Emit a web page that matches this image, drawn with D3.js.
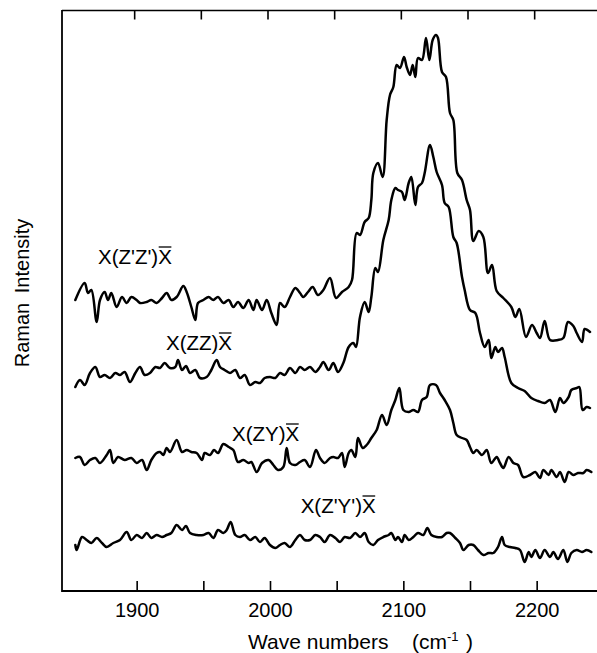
<!DOCTYPE html>
<html>
<head>
<meta charset="utf-8">
<script src="https://cdn.jsdelivr.net/npm/d3@7"></script>
<style>
  html, body { margin: 0; padding: 0; background: #fff; }
  svg { display: block; }
  text { font-family: "Liberation Sans", Arial, Helvetica, sans-serif; fill: #000; }
</style>
</head>
<body>
<svg id="chart" width="597" height="653"></svg>
<script>
// ---- DATA (wavenumber cm^-1, Raman intensity in arbitrary units incl. vertical offset) ----
const xDomain = [1844, 2245.25];
const yDomain = [0, 58.1];
const majorTicks = [1900, 2000, 2100, 2200];
const minorTicks = [1950, 2050, 2150];
const seriesNames = ["X(Z'Z')X", "X(ZZ)X", "X(ZY)X", "X(Z'Y')X"];

const zpzp = [[1854,29.1],[1861,30.8],[1863.5,29.8],[1866,30.1],[1870,26.9],[1872.5,29.1],[1876,29.9],[1878.5,29.1],[1881,29.8],[1885,28.4],[1889,29.4],[1892.5,28.8],[1896,29.4],[1900,29.1],[1902.5,28.8],[1907.5,28.9],[1911,29.1],[1915,28.8],[1919,29.3],[1922.5,29.8],[1926,29.1],[1930,29.4],[1935,30.5],[1937.5,29.9],[1941,28.4],[1944,27.1],[1946,28.8],[1950,29.1],[1954,29.4],[1957.5,29.1],[1961,29.4],[1965,28.8],[1969,29.1],[1972.5,28.4],[1976,28.9],[1980,28.3],[1984,29.1],[1987.5,28.1],[1990,29.1],[1994,28.1],[1997.5,29.1],[2001,27.8],[2005,26.6],[2007.5,28.8],[2011,28.4],[2015,29.4],[2019,30.3],[2022.5,29.8],[2025,29.4],[2028.5,29.9],[2032,30.4],[2036,29.6],[2040,30.1],[2045,31.3],[2049.5,29.3],[2054,29.9],[2059,30.4],[2061.5,31.1],[2065,35.8],[2067.5,35.6],[2071,36.9],[2074,37.3],[2076,39.1],[2077.5,41.8],[2081,42.8],[2084.5,41.4],[2087.5,47.1],[2090,49.6],[2092.5,50.4],[2095,52.6],[2097.5,52.3],[2100.5,53.4],[2102.5,52.4],[2105,51.6],[2107,52.6],[2109,51.4],[2111,53.3],[2114,53.1],[2117,55.3],[2119.5,53.1],[2122,55.1],[2124.5,55.6],[2126,55.3],[2129,51.9],[2132,51.4],[2135,47.8],[2137.5,47.1],[2140.5,41.8],[2144,41.1],[2147.5,39.1],[2150,38.1],[2152.5,35.0],[2156.5,36.0],[2160,35.4],[2163.5,31.8],[2166.5,32.6],[2170,30.0],[2175,29.3],[2181,28.4],[2184,27.4],[2187,28.2],[2192,25.4],[2196.5,26.6],[2200,25.8],[2202.5,25.3],[2206,27.0],[2210,25.1],[2216,25.1],[2220,25.3],[2223.5,26.9],[2227.5,26.5],[2230,25.8],[2234,24.9],[2236,26.2],[2240,25.9]];

const zz = [[1854,20.4],[1857.5,21.1],[1861,20.6],[1865,21.8],[1869,22.4],[1872.5,21.4],[1876,21.6],[1880,21.3],[1884,21.8],[1887.5,21.6],[1891,21.9],[1895,20.9],[1899,21.8],[1902.5,22.4],[1906,21.6],[1910,21.8],[1914,22.4],[1917.5,22.3],[1921,22.8],[1925,22.3],[1929,22.4],[1931,23.1],[1934,22.1],[1937,22.5],[1940,21.8],[1944,22.1],[1947.5,21.3],[1952.5,21.4],[1956,22.1],[1960,23.1],[1962.5,22.4],[1966,22.1],[1970,21.8],[1974,22.1],[1977.5,21.3],[1981,21.6],[1985,20.6],[1989,20.9],[1992.5,20.8],[1996,21.3],[2000,21.4],[2004,21.3],[2007.5,21.8],[2011,21.6],[2015,22.3],[2019,21.8],[2022.5,22.4],[2026,22.1],[2030,22.4],[2034,21.9],[2037.5,22.4],[2040,22.9],[2044,22.1],[2047.5,22.8],[2051,21.9],[2055,22.8],[2059,24.4],[2062.5,24.8],[2064.5,24.4],[2067.5,27.4],[2071,28.9],[2074,27.9],[2076,29.4],[2079,32.3],[2081,31.9],[2085,35.1],[2089,37.1],[2091,39.1],[2094,40.3],[2096,40.1],[2099,39.9],[2101,39.1],[2104,40.8],[2106,41.4],[2109,38.6],[2111,40.4],[2114,40.8],[2116,41.8],[2120,44.6],[2122.5,43.4],[2125,41.9],[2129,40.6],[2131,38.8],[2134,38.4],[2137.5,35.4],[2140,34.8],[2144,31.4],[2146,30.1],[2150,28.1],[2154,27.8],[2157.5,25.8],[2161,24.4],[2164,25.1],[2166,23.3],[2169,24.4],[2171,23.9],[2174,24.3],[2176,23.4],[2181,20.8],[2186,20.3],[2191,20.0],[2196,19.3],[2201,19.0],[2206,18.8],[2210,19.1],[2214,17.9],[2217.5,19.3],[2220,18.8],[2224,19.4],[2226,20.1],[2230,20.3],[2232,20.4],[2234.5,18.1],[2237.5,18.4],[2240,18.3]];

const zy = [[1854,13.3],[1857.5,13.4],[1861,12.6],[1865,13.1],[1869,13.3],[1872.5,12.8],[1877.5,13.6],[1880,14.1],[1882.5,12.8],[1886,13.4],[1891,13.1],[1896,13.3],[1900,12.8],[1904,13.1],[1907.5,12.1],[1911,13.1],[1915,13.8],[1917.5,13.9],[1920,13.6],[1922.5,14.3],[1925,13.9],[1930,15.1],[1934,13.9],[1937.5,14.1],[1941,13.9],[1945,13.8],[1949,13.1],[1951,13.8],[1955,13.6],[1958,14.1],[1961,13.8],[1965,14.7],[1969,14.4],[1972.5,14.1],[1976,12.9],[1980,13.1],[1984,12.8],[1986,12.9],[1990,11.9],[1994,12.8],[1999,13.1],[2002.5,12.6],[2006,12.1],[2010,12.4],[2012.5,14.3],[2015,12.8],[2019,12.6],[2022.5,12.9],[2026,13.1],[2030,12.4],[2034.5,14.1],[2037.5,13.3],[2041,12.8],[2045,13.3],[2047.5,13.4],[2051,13.3],[2054,13.8],[2056,12.4],[2059,13.8],[2061,14.1],[2064,13.4],[2066,15.3],[2069.5,14.3],[2072.5,14.6],[2076,15.3],[2080,16.1],[2084,17.6],[2087.5,16.6],[2091,18.1],[2094,19.1],[2097,20.3],[2100,18.1],[2104,17.9],[2107.5,18.1],[2111,17.9],[2114,19.1],[2117.5,19.4],[2120,20.6],[2124.5,20.6],[2127.5,19.8],[2131,19.1],[2135,18.1],[2137.5,16.8],[2140,15.6],[2144,15.3],[2147.5,15.1],[2150,14.4],[2152.5,13.8],[2155,14.1],[2159,13.6],[2162.5,14.1],[2166,12.8],[2170,13.4],[2172.5,12.8],[2175,12.3],[2179,13.4],[2182.5,12.8],[2186,12.6],[2190,11.4],[2195,11.6],[2199,11.9],[2202.5,11.3],[2205,12.1],[2209,11.6],[2211,12.1],[2215,11.4],[2217.5,11.9],[2221,10.9],[2224,11.9],[2227.5,11.6],[2231,11.8],[2235,11.8],[2237.5,12.1],[2241,11.9]];

const zpyp = [[1854,4.6],[1855,4.1],[1859,5.4],[1862.5,5.1],[1866,4.8],[1870,5.3],[1874,4.8],[1877.5,4.4],[1882.5,4.8],[1887.5,5.1],[1892.5,5.9],[1896,5.1],[1900,5.6],[1904,5.3],[1907.5,5.8],[1911,5.3],[1915,5.6],[1919,5.4],[1922.5,5.6],[1926,5.8],[1930,6.6],[1934,6.1],[1937,6.5],[1940,5.8],[1945,5.6],[1950,5.6],[1954,5.8],[1957.5,5.3],[1961,6.1],[1965,5.8],[1967.5,6.1],[1970.5,6.9],[1974,5.6],[1977.5,5.4],[1981,5.6],[1985,5.1],[1989,5.4],[1992.5,4.9],[1996,5.3],[2000,4.6],[2004,4.3],[2007.5,4.6],[2011,4.8],[2015,4.4],[2019,5.1],[2022.5,5.6],[2026,5.1],[2030,5.1],[2034,5.6],[2037.5,5.4],[2041,4.9],[2045,5.6],[2049,5.3],[2052.5,4.9],[2056,5.4],[2060,5.3],[2064,5.8],[2067.5,5.4],[2071,5.8],[2074,4.9],[2077.5,4.6],[2081,5.1],[2085,5.4],[2089,5.6],[2091,5.8],[2094,5.1],[2096,5.4],[2099,4.9],[2101,5.6],[2104,5.1],[2107.5,5.4],[2111,5.8],[2115,5.6],[2118,6.3],[2121,5.6],[2125,5.4],[2129,5.4],[2132.5,5.8],[2135,5.8],[2139,5.3],[2142.5,4.8],[2145,4.1],[2149,4.6],[2152.5,4.6],[2156,4.1],[2160,3.6],[2164,3.8],[2167.5,3.8],[2171,4.4],[2174,5.4],[2176,4.6],[2180,4.4],[2184,4.3],[2187.5,4.1],[2191,2.9],[2194,3.9],[2196,3.4],[2199,4.1],[2202.5,3.3],[2206,4.1],[2210,3.4],[2212.5,3.9],[2216,3.2],[2220,4.1],[2223,2.9],[2226,3.8],[2230,4.1],[2234,3.9],[2237.5,4.1],[2241,3.9]];

const allSeries = [zpzp, zz, zy, zpyp];
// label anchor: [wavenumber at left edge of label, intensity at label baseline]
const labelAnchors = [[1871, 32.7], [1922, 24.1], [1971.5, 15.0], [2023, 7.8]];

// ---- DRAWING ----
const svg = d3.select("#chart");
const x = d3.scaleLinear().domain(xDomain).range([62, 597]);
const y = d3.scaleLinear().domain(yDomain).range([591, 10]);
const font = 20.5;

// frame
svg.append("line").attr("x1", 62).attr("x2", 597).attr("y1", 591).attr("y2", 591)
  .attr("stroke", "#000").attr("stroke-width", 1.8);
svg.append("line").attr("x1", 62).attr("x2", 597).attr("y1", 10.5).attr("y2", 10.5)
  .attr("stroke", "#000").attr("stroke-width", 1.6);
svg.append("line").attr("x1", 62).attr("x2", 62).attr("y1", 10).attr("y2", 592)
  .attr("stroke", "#000").attr("stroke-width", 1.8);

const tickVals = majorTicks.concat(minorTicks).sort((a, b) => a - b);

// bottom axis (ticks inward)
const xb = svg.append("g").attr("transform", "translate(0,591)")
  .call(d3.axisBottom(x).tickValues(tickVals).tickSizeInner(-10).tickSizeOuter(0)
    .tickFormat(d => majorTicks.includes(d) ? String(d) : ""));
xb.select(".domain").remove();
xb.selectAll(".tick line").attr("stroke", "#000").attr("stroke-width", 1.6);
xb.selectAll(".tick text").attr("y", 26).attr("dy", 0)
  .style("font-size", "20px").style("font-family", "'Liberation Sans', Arial, sans-serif").attr("fill", "#000");

// top axis (ticks inward)
const xt = svg.append("g").attr("transform", "translate(-2.5,10.5)")
  .call(d3.axisTop(x).tickValues(tickVals).tickSizeInner(-9).tickSizeOuter(0).tickFormat(""));
xt.select(".domain").remove();
xt.selectAll(".tick line").attr("stroke", "#000").attr("stroke-width", 1.6);

// spectra
const line = d3.line().x(d => x(d[0])).y(d => y(d[1])).curve(d3.curveCatmullRom.alpha(0.5));
svg.selectAll("path.spec").data(allSeries).join("path")
  .attr("class", "spec")
  .attr("d", line)
  .attr("fill", "none").attr("stroke", "#000").attr("stroke-width", 2.5)
  .attr("stroke-linejoin", "round").attr("stroke-linecap", "round");

// series labels with overbar on final X
seriesNames.forEach((name, i) => {
  const [lw, lv] = labelAnchors[i];
  const t = svg.append("text").attr("x", x(lw)).attr("y", y(lv))
    .style("font-size", font + "px").text(name);
  const n = name.length;
  const node = t.node();
  const s = node.getStartPositionOfChar(n - 1);
  const e = node.getEndPositionOfChar(n - 1);
  svg.append("line").attr("x1", s.x + 0.5).attr("x2", e.x - 0.5)
    .attr("y1", y(lv) - 17).attr("y2", y(lv) - 17)
    .attr("stroke", "#000").attr("stroke-width", 1.3);
});

// y axis title
svg.append("text")
  .attr("transform", "translate(28.5,293) rotate(-90)")
  .attr("text-anchor", "middle")
  .style("font-size", "20px").style("word-spacing", "4px")
  .text("Raman Intensity");

// x axis title
const xt2 = svg.append("text").attr("y", 649).style("font-size", "21px");
xt2.append("tspan").attr("x", 248).text("Wave numbers");
xt2.append("tspan").attr("x", 412).text("(cm");
xt2.append("tspan").attr("dy", -8).style("font-size", "13px").text("-1");
xt2.append("tspan").attr("x", 466).attr("dy", 8).text(")");
</script>
</body>
</html>
